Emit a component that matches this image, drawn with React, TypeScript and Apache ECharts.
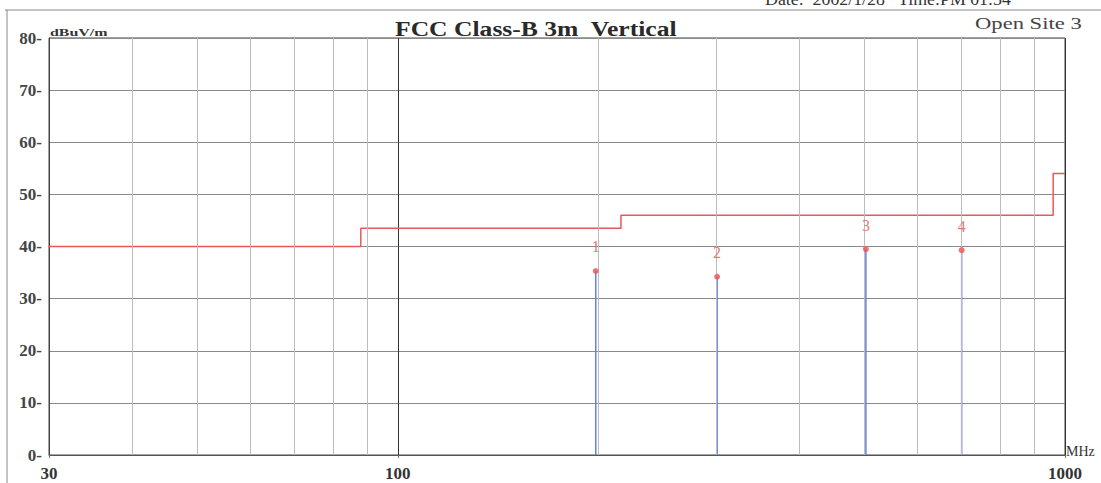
import React, { useEffect, useRef } from "react";
import * as echarts from "echarts";

const limitFreqs = [30, 88, 88, 216, 216, 960, 960, 1000];
const limitLevels = [40, 40, 43.5, 43.5, 46, 46, 54, 54];
const markerFreqs = [198, 301, 503, 700];
const markerLevels = [35.3, 34.2, 39.5, 39.3];
const markerNames = ["1", "2", "3", "4"];
const minorGridFreqs = [40, 50, 60, 70, 80, 90, 200, 300, 400, 500, 600, 700, 800, 900];
const yTicks = [0, 10, 20, 30, 40, 50, 60, 70, 80];

const SERIF = "'Liberation Serif', 'DejaVu Serif', serif";

function txt(text: string, x: number, y: number, font: string, fill: string, scaleX = 1) {
  return {
    type: "text",
    x,
    y,
    scaleX,
    style: { text, font, fill, textAlign: "left", textVerticalAlign: "top" },
  };
}

export default function App() {
  const ref = useRef<HTMLDivElement>(null);
  useEffect(() => {
    document.body.style.margin = "0";
    const chart = echarts.init(ref.current!, null, { renderer: "svg" });
    const limitData = limitFreqs.map((f, i) => [f, limitLevels[i]]);
    const stemSeries = markerFreqs.map((f, i) => ({
      type: "line",
      data: [[f, 0], [f, markerLevels[i]]],
      symbol: "none",
      lineStyle: { color: "#5f84e6", width: 1.5 },
      silent: true,
      z: 3,
    }));
    chart.setOption({
      animation: false,
      backgroundColor: "#ffffff",
      grid: { left: 49, right: 36, top: 38, bottom: 28, show: true, borderColor: "#444", borderWidth: 1 },
      xAxis: {
        type: "log",
        logBase: 10,
        min: 30,
        max: 1000,
        axisLine: { show: true, lineStyle: { color: "#555" } },
        axisTick: { show: true, length: 3, inside: false, lineStyle: { color: "#777" } },
        splitLine: { show: true, lineStyle: { color: "#333", width: 1 } },
        axisLabel: {
          formatter: (v: number) => String(Math.round(v)),
          fontFamily: SERIF,
          fontSize: 17,
          fontWeight: "bold",
          color: "#333",
          margin: 10,
          showMinLabel: true,
          showMaxLabel: true,
        },
      },
      yAxis: {
        type: "value",
        min: yTicks[0],
        max: yTicks[yTicks.length - 1],
        interval: 10,
        axisLine: { show: true, lineStyle: { color: "#444" } },
        axisTick: { show: false },
        splitLine: { show: true, lineStyle: { color: "#8a8a8a", width: 1 } },
        axisLabel: {
          formatter: (v: number) => `${v}-`,
          fontFamily: SERIF,
          fontSize: 17,
          fontWeight: "bold",
          color: "#444",
          margin: 7,
        },
      },
      series: [
        {
          type: "line",
          data: [],
          silent: true,
          markLine: {
            silent: true,
            symbol: "none",
            label: { show: false },
            lineStyle: { color: "#bdbdbd", width: 1, type: "solid" },
            data: minorGridFreqs.map((f) => ({ xAxis: f })),
          },
          z: 1,
        },
        {
          type: "line",
          data: limitData,
          symbol: "none",
          lineStyle: { color: "#e8585a", width: 1.5 },
          silent: true,
          z: 4,
        },
        ...stemSeries,
        {
          type: "scatter",
          data: markerFreqs.map((f, i) => ({ value: [f, markerLevels[i]], name: markerNames[i] })),
          symbol: "circle",
          symbolSize: 6,
          itemStyle: { color: "#ee4f55" },
          label: {
            show: true,
            position: "top",
            distance: 13,
            formatter: (p: any) => p.name,
            fontFamily: SERIF,
            fontSize: 16,
            color: "#e85050",
          },
          z: 5,
        },
      ],
      graphic: [
        { type: "line", shape: { x1: 5, y1: 10, x2: 1101, y2: 10 }, style: { stroke: "#888", lineWidth: 1 } },
        { type: "line", shape: { x1: 7, y1: 10, x2: 7, y2: 483 }, style: { stroke: "#888", lineWidth: 1 } },
        txt("Date:  2002/1/28   Time:PM 01:54", 765, -9, `17px ${SERIF}`, "#333", 1.05),
        txt("FCC Class-B 3m  Vertical", 395, 19, `bold 20px ${SERIF}`, "#2a2a2a", 1.28),
        txt("Open Site 3", 975, 15, `17px ${SERIF}`, "#444", 1.33),
        txt("dBuV/m", 50, 27, `bold 11px ${SERIF}`, "#333", 1.45),
        txt("MHz", 1066, 444, `14px ${SERIF}`, "#333", 1.0),
      ],
    });
    return () => chart.dispose();
  }, []);
  return <div ref={ref} style={{ width: 1101, height: 483 }} />;
}
